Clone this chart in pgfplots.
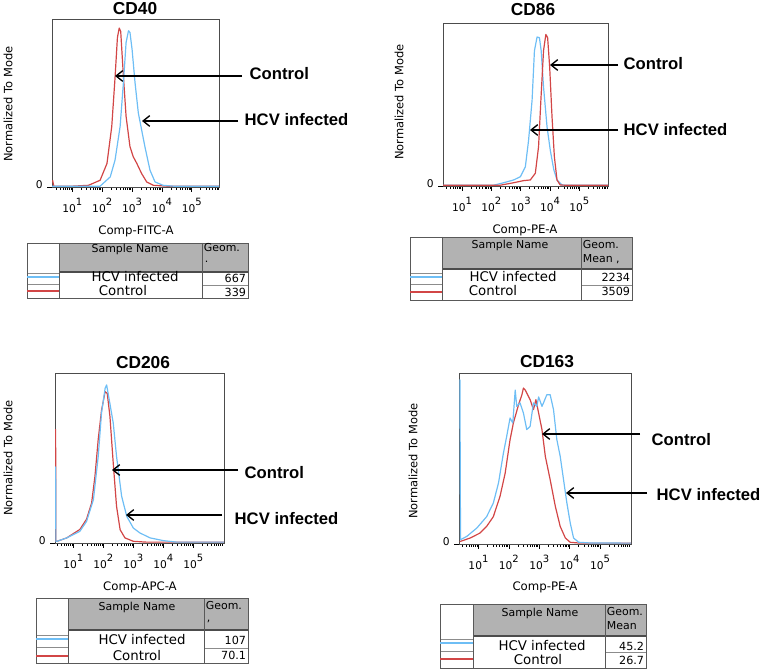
\documentclass[border=0pt]{standalone}
\usepackage{pgfplots}
\pgfplotsset{compat=1.18}
\usepackage{fontspec}
\setmainfont{Liberation Sans}
\newfontfamily\tabfont{DejaVu Sans}
\usetikzlibrary{arrows.meta}
\definecolor{fcblue}{RGB}{110,190,245}
\definecolor{fcred}{RGB}{210,70,70}
\definecolor{hdr}{RGB}{178,178,178}
\newcommand{\dec}[1]{10\raisebox{5pt}{\fontsize{7.5}{8}\selectfont #1}}
\pgfplotsset{fc/.style={scale only axis, anchor=north west, ymin=0, ymax=100,
 xtick={1,2,3,4,5}, xticklabels={\dec1,\dec2,\dec3,\dec4,\dec5},
 minor xtick={0.301,0.477,0.602,0.699,0.778,0.845,0.903,0.954,
 1.301,1.477,1.602,1.699,1.778,1.845,1.903,1.954,
 2.301,2.477,2.602,2.699,2.778,2.845,2.903,2.954,
 3.301,3.477,3.602,3.699,3.778,3.845,3.903,3.954,
 4.301,4.477,4.602,4.699,4.778,4.845,4.903,4.954,
 5.301,5.477,5.602,5.699,5.778,5.845,5.903,5.954},
 tick align=outside, xtick pos=left, ytick pos=left, ytick={0}, yticklabels={0},
 major tick length=3.5pt, minor tick length=2pt,
 every tick/.style={black, line width=0.5pt},
 axis line style={draw=black!70, line width=0.6pt},
 tick label style={font=\tabfont\fontsize{8}{9}\selectfont},
 xticklabel style={yshift=-1.5pt},
 yticklabel style={yshift=2pt},
 every axis plot/.append style={line width=0.9pt, no marks, line join=round}}}
\newcommand{\fctab}[9]{%
 \fill[hdr] (#2,#5) rectangle (#4,#6);
 \draw[black!45, line width=0.4pt] (#1,#8-4) -- (#2,#8-4) (#1,{(#8+#9)/2}) -- (#2,{(#8+#9)/2}) (#3,{(#8+#9)/2+1}) -- (#4,{(#8+#9)/2+1});
 \draw[black!70, line width=1pt] (#2,#6) -- (#4,#6);
 \draw[black!65, line width=0.6pt] (#1,#5) rectangle (#4,#7);
 \draw[black!65, line width=0.6pt] (#2,#5) -- (#2,#7) (#3,#5) -- (#3,#7);
 \draw[fcblue, line width=1.6pt] (#1,#8) -- (#2,#8);
 \draw[fcred, line width=1.6pt] (#1,#9) -- (#2,#9);
}
\tikzset{ttl/.style={font=\bfseries\fontsize{13}{14}\selectfont},
 lab/.style={font=\bfseries\fontsize{12.5}{14}\selectfont, anchor=west},
 arr/.style={-{Straight Barb[length=5pt,width=8pt]}, line width=1pt},
 ylab/.style={rotate=90, font=\tabfont\fontsize{8.6}{10}\selectfont},
 xlab/.style={font=\tabfont\fontsize{8.8}{10}\selectfont},
 tb/.style={font=\tabfont\fontsize{8.2}{9}\selectfont, inner sep=0.5pt},
 tbb/.style={font=\tabfont\fontsize{10}{11}\selectfont, inner sep=0.5pt},
 tn/.style={font=\tabfont\fontsize{8.4}{9}\selectfont, anchor=east, inner sep=0.5pt}}
\begin{document}
\begin{tikzpicture}[x=0.75pt,y=-0.75pt]
\path[use as bounding box] (0,0) rectangle (765,670);
% ---------- CD40
\begin{axis}[fc, at={(39pt,-14.25pt)}, width=125.25pt, height=126pt, xmin=0.32, xmax=5.91]
\addplot[fcred] coordinates {(0.34,4) (0.38,0.5) (1.0,0.5) (1.54,1) (1.93,4) (2.16,14) (2.32,36) (2.43,65) (2.51,89) (2.57,94.6) (2.62,92.6) (2.71,66) (2.80,42) (2.93,24) (3.04,18) (3.16,14) (3.32,8) (3.49,3) (3.71,1) (4.16,0.5) (5.91,0.5)};
\addplot[fcblue] coordinates {(0.32,0.5) (1.93,0.5) (2.27,6) (2.43,16) (2.60,36) (2.71,62) (2.80,86) (2.88,93) (2.93,92) (3.00,82) (3.10,62) (3.21,44) (3.32,34) (3.43,24) (3.60,10) (3.77,3) (4.04,1) (4.38,0.5) (5.91,0.5)};
\end{axis}
\node[ttl] at (135,9) {CD40};
\node[ylab] at (8,104) {Normalized To Mode};
\node[xlab] at (136,231) {Comp-FITC-A};
\draw[arr] (242,76) -- (115,76);
\node[lab] at (245,74) {Control};
\draw[arr] (238,121) -- (142,121);
\node[lab] at (240,120) {HCV infected};
\fctab{27}{59}{202}{248}{243}{272}{298}{277}{291}
\node[tb] at (130,249) {Sample Name};
\node[tb,anchor=west] at (203,248) {Geom.};
\node[tb,anchor=west] at (204,262) {.};
\node[tbb] at (135,277) {HCV infected};
\node[tbb] at (123,291) {Control};
\node[tn] at (247,278) {667};
\node[tn] at (247,292) {339};
% ---------- CD86
\begin{axis}[fc, at={(332.25pt,-17.25pt)}, width=123.75pt, height=122.25pt, xmin=0.35, xmax=5.98]
\addplot[fcblue] coordinates {(0.35,0.5) (2.08,0.5) (2.42,2) (2.76,3.7) (2.99,5.7) (3.16,11.8) (3.27,28) (3.39,52.7) (3.47,83) (3.56,91.4) (3.64,91) (3.70,83) (3.78,60.8) (3.90,36.3) (4.01,22) (4.13,10) (4.24,3.7) (4.41,0.6) (4.58,0.5) (5.98,0.5)};
\addplot[fcred] coordinates {(0.35,0.5) (2.31,0.5) (2.76,2) (3.10,3.3) (3.33,3.7) (3.50,7.8) (3.61,24) (3.69,52.7) (3.78,83) (3.86,93) (3.92,91) (3.99,73) (4.07,42.4) (4.15,18) (4.24,3.7) (4.35,0.6) (4.52,0.5) (5.98,0.5)};
\end{axis}
\node[ttl] at (533,10) {CD86};
\node[ylab] at (399,102) {Normalized To Mode};
\node[xlab] at (525,230) {Comp-PE-A};
\draw[arr] (618,65) -- (550,65);
\node[lab] at (619,64) {Control};
\draw[arr] (618,130) -- (530,130);
\node[lab] at (619,130) {HCV infected};
\fctab{410}{442}{581}{632}{237}{269}{300}{277}{292}
\node[tb] at (510,245) {Sample Name};
\node[tb,anchor=west] at (582,245) {Geom.};
\node[tb,anchor=west] at (582,259) {Mean ,};
\node[tbb] at (513,277) {HCV infected};
\node[tbb] at (493,291) {Control};
\node[tn] at (631,277) {2234};
\node[tn] at (631,291) {3509};
% ---------- CD206
\begin{axis}[fc, at={(41.25pt,-279.75pt)}, width=126.75pt, height=127.5pt, xmin=0.39, xmax=6.02]
\addplot[fcred] coordinates {(0.41,67) (0.42,1) (0.46,1) (0.78,3) (1.22,8) (1.44,14) (1.61,23.5) (1.72,39) (1.83,61) (1.94,78) (2.06,89) (2.13,88) (2.22,74.5) (2.33,47) (2.44,21.6) (2.56,7.8) (2.72,3) (3.00,1) (3.44,0.5) (4.11,0.5) (6.02,0.5)};
\addplot[fcblue] coordinates {(0.41,45) (0.42,1) (0.46,1) (0.78,3) (1.22,6.9) (1.44,12.7) (1.67,25.5) (1.83,51) (1.94,76.5) (2.06,91) (2.11,93) (2.20,84) (2.33,70.6) (2.44,51) (2.61,27.5) (2.78,15.7) (3.00,8.8) (3.22,5.9) (3.56,3) (4.00,1.4) (4.44,0.5) (4.78,0.5) (6.02,0.5)};
\end{axis}
\node[ttl] at (143,363) {CD206};
\node[ylab] at (8,458) {Normalized To Mode};
\node[xlab] at (140,587) {Comp-APC-A};
\draw[arr] (238,470) -- (112,470);
\node[lab] at (240,473) {Control};
\draw[arr] (222,515) -- (126,515);
\node[lab] at (230,519) {HCV infected};
\fctab{36}{68}{204}{248}{598}{630}{663}{639}{656}
\node[tb] at (137,607) {Sample Name};
\node[tb,anchor=west] at (205,606) {Geom.};
\node[tb,anchor=west] at (206,621) {,};
\node[tbb] at (142,640) {HCV infected};
\node[tbb] at (137,656) {Control};
\node[tn] at (247,640) {107};
\node[tn] at (247,655) {70.1};
% ---------- CD163
\begin{axis}[fc, at={(344.25pt,-279.75pt)}, width=129pt, height=128.25pt, xmin=0.36, xmax=6.02]
\addplot[fcred] coordinates {(0.38,1.5) (0.40,1.5) (0.73,3.5) (1.05,6.4) (1.27,10.3) (1.49,16) (1.71,27.9) (1.88,41.5) (2.04,61) (2.15,70.8) (2.32,81.5) (2.43,87.3) (2.48,91.2) (2.54,90) (2.59,88.3) (2.70,84.4) (2.81,78.6) (2.89,84.4) (2.98,76.6) (3.09,66.9) (3.20,51.3) (3.36,37.6) (3.53,22) (3.69,10.3) (3.86,3.5) (4.02,1) (4.35,0.5) (6.02,0.5)};
\addplot[fcblue] coordinates {(0.38,96) (0.39,96) (0.41,2.5) (0.62,4.5) (0.95,9.4) (1.27,16) (1.49,24) (1.66,35.7) (1.82,53) (1.93,63) (2.04,73.7) (2.13,70.8) (2.21,90) (2.26,80.5) (2.37,82.5) (2.48,76.6) (2.59,66.9) (2.70,68.8) (2.81,82.5) (2.92,80.5) (2.98,86) (3.09,80.5) (3.14,82.5) (3.25,87.3) (3.36,87.3) (3.47,78.6) (3.58,61) (3.69,51.3) (3.80,37.6) (3.91,24) (4.02,12.3) (4.13,3.5) (4.30,1) (4.68,0.6) (6.02,0.5)};
\end{axis}
\node[ttl] at (547,362) {CD163};
\node[ylab] at (413,461) {Normalized To Mode};
\node[xlab] at (545,587) {Comp-PE-A};
\draw[arr] (640,434) -- (542,434);
\node[lab] at (647,440) {Control};
\draw[arr] (647,493) -- (566,493);
\node[lab] at (652,495) {HCV infected};
\fctab{440}{473}{605}{646}{604}{636}{668}{643}{659}
\node[tb] at (540,613) {Sample Name};
\node[tb,anchor=west] at (606,612) {Geom.};
\node[tb,anchor=west] at (606,626) {Mean};
\node[tbb] at (542,646) {HCV infected};
\node[tbb] at (538,660) {Control};
\node[tn] at (645,646) {45.2};
\node[tn] at (645,660) {26.7};
\end{tikzpicture}
\end{document}
